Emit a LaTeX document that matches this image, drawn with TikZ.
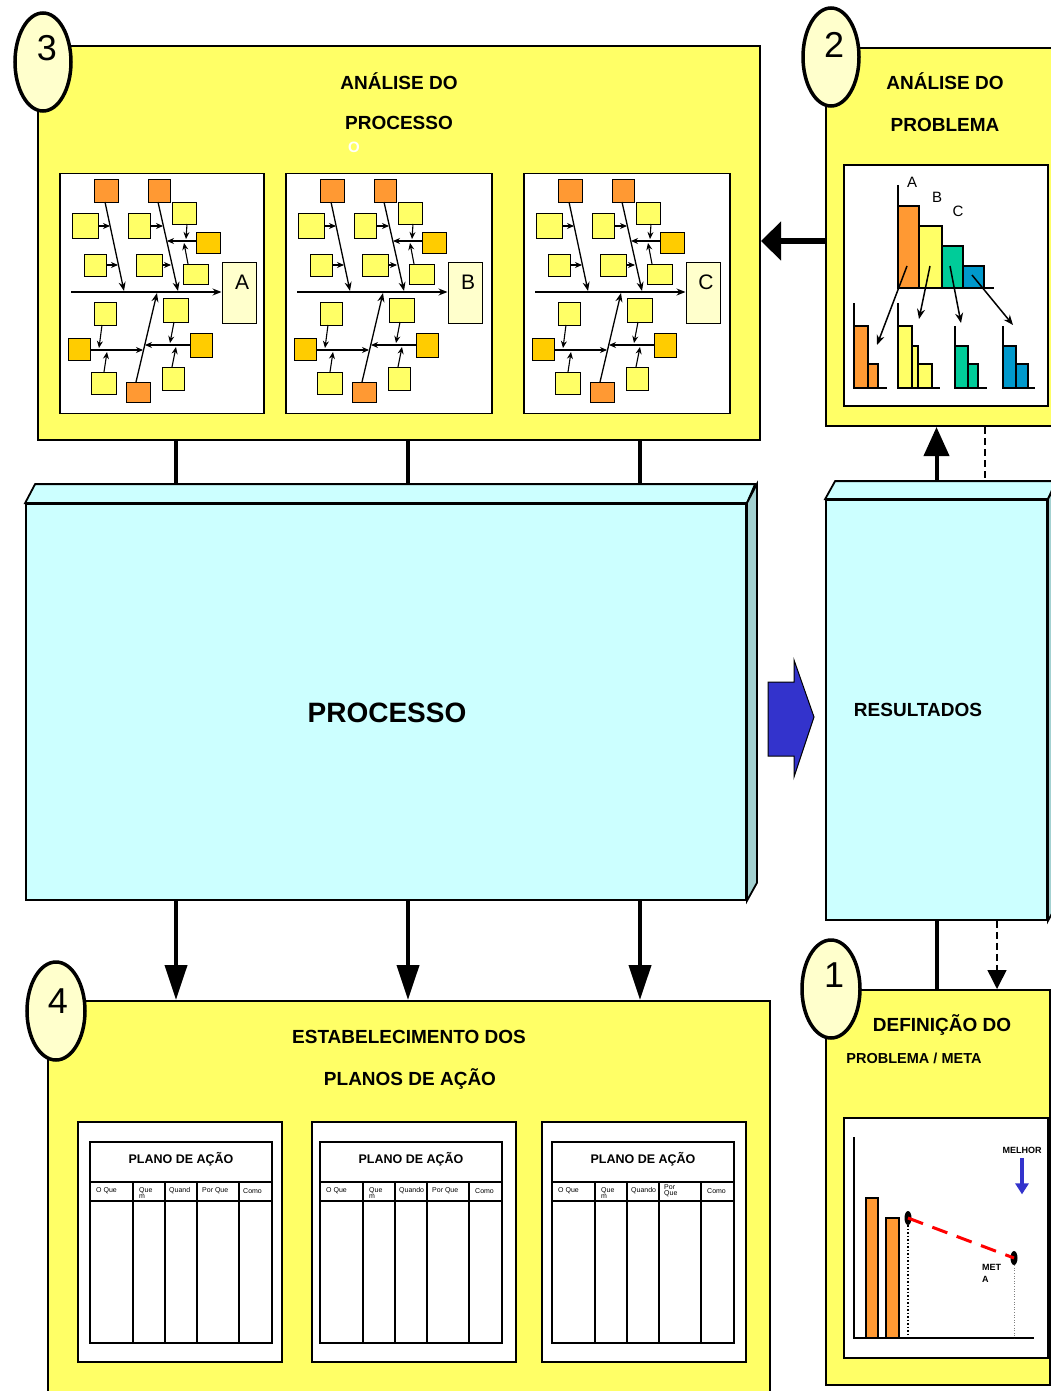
\documentclass[tikz,border=0pt]{standalone}
\usepackage{fontspec}
\setmainfont{Liberation Sans}
\usepackage{tikz}
\usetikzlibrary{arrows.meta, shapes.geometric, positioning, calc}
\definecolor{panel-yellow}{HTML}{FFFF66}
\definecolor{badge-fill}{HTML}{FFFFCC}
\definecolor{box-cyan}{HTML}{CCFFFF}
\definecolor{box-side}{HTML}{A3D1D1}
\definecolor{cause-orange}{HTML}{FF9933}
\definecolor{cause-gold}{HTML}{FFCC00}
\definecolor{bar-green}{HTML}{00CC99}
\definecolor{bar-blue}{HTML}{0099CC}
\definecolor{arrow-blue}{HTML}{3333CC}
\tikzstyle{panel} = [rectangle, draw, fill=panel-yellow, line width=2pt, inner sep=0pt]
\tikzstyle{badge} = [ellipse, draw, fill=badge-fill, line width=3.5pt, minimum width=56pt, minimum height=98pt, inner sep=0pt]
\tikzstyle{badgenum} = [inner sep=0pt, font=\fontsize{36}{36}\selectfont]
\tikzstyle{title} = [inner sep=0pt, font=\fontsize{19}{22}\selectfont\bfseries]
\tikzstyle{sheet} = [rectangle, draw, fill=white, line width=1.5pt, inner sep=0pt, minimum width=204pt, minimum height=240pt]
\tikzstyle{box3d} = [rectangle, draw, fill=box-cyan, line width=1.8pt, inner sep=0pt]
\tikzstyle{cause} = [draw, line width=1pt]
\tikzstyle{bone} = [line width=1.3pt, -{Stealth[length=9pt,width=7pt]}]
\tikzstyle{twig} = [line width=1.1pt, -{Stealth[length=7pt,width=6pt]}]
\tikzstyle{link} = [line width=4pt]
\tikzstyle{bigArrow} = [line width=4pt, -{Triangle[length=35pt,width=22pt]}]
\tikzstyle{colhead} = [anchor=west, inner sep=0pt, align=left, font=\fontsize{7}{6}\selectfont]

\newcommand{\fishbone}[2]{%
  \begin{scope}[xshift=#1pt]
    \node[cause, fill=badge-fill, minimum width=34pt, minimum height=61pt, inner sep=0pt] (fish#2) at (239,292.5) {};
    \node[inner sep=0pt, font=\fontsize{21}{21}\selectfont] (fish#2-name) at (242,282) {#2};
    \foreach \a/\b/\c/\d in {72/213/98/238, 84/254/106/276, 128/213/150/238, 136/254/162/276, 172/202/196/224,
        183/264/208/284, 94/302/116/325, 91/372/116/394, 163/298/188/322, 162/367/184/390}
      \draw[cause, fill=panel-yellow] (\a,\b) rectangle (\c,\d);
    \foreach \a/\b/\c/\d in {94/180/118/202, 148/180/170/202, 126/382/150/402}
      \draw[cause, fill=cause-orange] (\a,\b) rectangle (\c,\d);
    \foreach \a/\b/\c/\d in {196/232/220/253, 68/338/90/360, 190/333/212/357}
      \draw[cause, fill=cause-gold] (\a,\b) rectangle (\c,\d);
    \draw[bone] (71,292) -- (fish#2.west |- 0,292);
    \draw[bone] (105,202) -- (124,291);
    \draw[bone] (158,202) -- (178,291);
    \draw[bone] (136,382) -- (157,293);
    \foreach \a/\b/\c/\d in {98/226/110/226, 106/265/118/265, 150/226/163/226, 162/265/171/265, 196/241/167/241,
        187/224/186/239, 188/264/184/243, 90/350/143/350, 102/325/99/348, 104/372/107/352, 174/322/170/343,
        190/345/145/345, 172/367/176/347}
      \draw[twig] (\a,\b) -- (\c,\d);
  \end{scope}}

\newcommand{\planoTable}[5]{%
  \begin{scope}[xshift=#1pt]
    \draw[line width=1.5pt] (0,1142) rectangle (182,1343);
    \draw[line width=1.5pt] (0,1182) -- (182,1182);
    \draw[line width=1.5pt] (0,1201) -- (182,1201);
    \foreach \cx in {43,75,107,149}
      \draw[line width=1.5pt] (\cx,1182) -- (\cx,1343);
    \node[inner sep=0pt, font=\fontsize{12.5}{14}\selectfont\bfseries] (#2-head) at (91,1159) {PLANO DE AÇÃO};
    \node[colhead] (#2-c1) at (6,1191) {O Que};
    \node[colhead] (#2-c2) at (49,1193) {Que\\m};
    \node[colhead] (#2-c3) at (79,1191) {#3};
    \node[colhead] (#2-c4) at (112,1191) {#4};
    \node[colhead] (#2-c5) at (#5,1191) {Como};
  \end{scope}}

\begin{document}
\begin{tikzpicture}[x=1pt, y=-1pt]
  \useasboundingbox (0,0) rectangle (1051,1391);
  \clip (0,0) rectangle (1051,1391);

  % step 3
  \node[panel, minimum width=722pt, minimum height=394pt] (panel3) at (399,243) {};
  \node[title] (title3a) at (399,81) {ANÁLISE DO};
  \node[title] (title3b) at (399,123) {PROCESSO};
  \node[inner sep=0pt, white, font=\fontsize{15}{15}\selectfont\bfseries] (title3c) at (354,147) {O};
  \node[sheet] (fishA) at (162,293.5) {};
  \node[sheet, minimum width=206pt] (fishB) at (389,293.5) {};
  \node[sheet, minimum width=206pt] (fishC) at (627,293.5) {};
  \fishbone{0}{A}
  \fishbone{226}{B}
  \fishbone{464}{C}

  % step 2
  \node[panel, minimum width=232pt, minimum height=378pt] (panel2) at (942,237) {};
  \node[title] (title2a) at (945,81) {ANÁLISE DO};
  \node[title] (title2b) at (945,125) {PROBLEMA};
  \node[sheet, minimum height=241pt] (pareto) at (946,285.5) {};
  \draw[line width=1.5pt, fill=cause-orange] (898,206) rectangle (919,288);
  \draw[line width=1.5pt, fill=panel-yellow] (919,226) rectangle (942,288);
  \draw[line width=1.5pt, fill=bar-green] (942,246) rectangle (963,288);
  \draw[line width=1.5pt, fill=bar-blue] (963,266) rectangle (984,288);
  \draw[line width=1.5pt] (898,185) -- (898,288) -- (994,288);
  \node[inner sep=0pt, font=\fontsize{15}{15}\selectfont] (barA) at (912,182) {A};
  \node[inner sep=0pt, font=\fontsize{15}{15}\selectfont] (barB) at (937,197) {B};
  \node[inner sep=0pt, font=\fontsize{15}{15}\selectfont] (barC) at (958,211) {C};
  \foreach \a/\b/\c/\d in {907/266/877/345, 930/266/919/319, 950/266/961/323, 972/275/1013/325}
    \draw[line width=1.5pt, -{Stealth[length=10pt,width=8pt]}] (\a,\b) -- (\c,\d);
  \draw[line width=1.2pt, fill=cause-orange] (854,326) rectangle (868,388);
  \draw[line width=1.2pt, fill=cause-orange] (868,364) rectangle (878,388);
  \draw[line width=1.2pt, fill=panel-yellow] (898,326) rectangle (912,388);
  \draw[line width=1.2pt, fill=panel-yellow] (912,346) rectangle (918,388);
  \draw[line width=1.2pt, fill=panel-yellow] (918,364) rectangle (932,388);
  \draw[line width=1.2pt, fill=bar-green] (955,346) rectangle (968,388);
  \draw[line width=1.2pt, fill=bar-green] (968,364) rectangle (978,388);
  \draw[line width=1.2pt, fill=bar-blue] (1003,346) rectangle (1016,388);
  \draw[line width=1.2pt, fill=bar-blue] (1016,364) rectangle (1028,388);
  \draw[line width=1.2pt] (854,303) -- (854,388) -- (887,388);
  \draw[line width=1.2pt] (898,303) -- (898,388) -- (940,388);
  \draw[line width=1.2pt] (955,326) -- (955,388) -- (987,388);
  \draw[line width=1.2pt] (1003,326) -- (1003,388) -- (1035,388);

  % processo
  \node[box3d, minimum width=720pt, minimum height=396pt] (proc) at (386,702) {};
  \draw[line width=1.8pt, fill=box-cyan] (proc.north west) -- ++(10,-19) -- ++(720,0) -- (proc.north east) -- cycle;
  \draw[line width=1.8pt, fill=box-side] (proc.north east) -- ++(10,-19) -- ($(proc.south east)+(10,-18)$) -- (proc.south east) -- cycle;
  \node[inner sep=0pt, font=\fontsize{28}{30}\selectfont\bfseries] (procText) at (387,713) {PROCESSO};
  \coordinate (proctop) at ($(proc.north)+(0,-19)$);

  % resultados
  \node[box3d, minimum width=221pt, minimum height=420pt] (res) at (936.5,710) {};
  \draw[line width=1.8pt, fill=box-cyan] (res.north west) -- ++(10,-18) -- ++(221,0) -- (res.north east) -- cycle;
  \draw[line width=1.8pt, fill=box-side] (res.north east) -- ++(10,-18) -- ($(res.south east)+(10,-18)$) -- (res.south east) -- cycle;
  \node[inner sep=0pt, font=\fontsize{19}{22}\selectfont\bfseries] (resText) at (918,710) {RESULTADOS};
  \coordinate (restop) at ($(res.north)+(0,-18)$);
  \filldraw[fill=arrow-blue, draw=black, line width=1pt] (768,682) -- (794,682) -- (794,660) -- (814,717)
    -- (794,777) -- (794,756) -- (768,756) -- cycle;

  % step 4
  \node[panel, minimum width=722pt, minimum height=399pt] (panel4) at (409,1200.5) {};
  \node[title] (title4a) at (409,1037) {ESTABELECIMENTO DOS};
  \node[title] (title4b) at (410,1079) {PLANOS DE AÇÃO};
  \node[sheet] (plano1) at (180,1242) {};
  \node[sheet] (plano2) at (414,1242) {};
  \node[sheet] (plano3) at (644,1242) {};
  \planoTable{90}{pA}{Quand}{Por Que}{153}
  \planoTable{320}{pB}{Quando}{Por Que}{155}
  \planoTable{552}{pC}{Quando}{Por\\Que}{155}

  % step 1
  \node[panel, minimum width=224pt, minimum height=395pt] (panel1) at (938,1187.5) {};
  \node[title] (title1a) at (942,1025) {DEFINIÇÃO DO};
  \node[inner sep=0pt, font=\fontsize{14.5}{16}\selectfont\bfseries] (title1b) at (914,1058) {PROBLEMA / META};
  \node[sheet] (meta) at (946,1238) {};
  \draw[line width=1.2pt, fill=cause-orange] (866,1198) rectangle (878,1338);
  \draw[line width=1.2pt, fill=cause-orange] (886,1218) rectangle (899,1338);
  \draw[line width=1.5pt] (854,1137) -- (854,1338) -- (1034,1338);
  \node[ellipse, fill=black, minimum width=7pt, minimum height=14pt, inner sep=0pt] (start) at (908,1218) {};
  \node[ellipse, fill=black, minimum width=7pt, minimum height=14pt, inner sep=0pt] (goal) at (1014,1258) {};
  \draw[line width=1.5pt, dotted] (start) -- (start |- 0,1338);
  \draw[line width=0.6pt, dotted, gray] (goal) -- (goal |- 0,1338);
  \draw[line width=3pt, red, dash pattern=on 16pt off 10pt] (start.center) -- (goal.center);
  \node[inner sep=0pt, font=\fontsize{9}{9}\selectfont\bfseries] (melhor) at (1022,1150) {MELHOR};
  \draw[line width=4pt, arrow-blue, -{Triangle[length=11pt,width=13pt]}] ([yshift=-5pt]melhor.south) -- ++(0,36);
  \node[inner sep=0pt, anchor=north west, align=left, font=\fontsize{9}{12}\selectfont\bfseries] (metaText) at (982,1264) {MET\\A};

  % badges
  \node[badge] (b3) at (43,62) {};
  \node[badgenum] (n3) at (47,48) {3};
  \node[badge] (b2) at (831,57) {};
  \node[badgenum] (n2) at (834,45) {2};
  \node[badge, minimum width=58pt] (b4) at (56,1011) {};
  \node[badgenum] (n4) at (58,1001) {4};
  \node[badge, minimum width=58pt] (b1) at (831,989) {};
  \node[badgenum] (n1) at (834,975) {1};

  % connectors
  \coordinate (col1) at (176,0);
  \coordinate (col2) at (408,0);
  \coordinate (col3) at (640,0);
  \coordinate (midrow) at (0,241);
  \foreach \c in {col1,col2,col3} {
    \draw[link] (panel3.south -| \c) -- (proctop -| \c);
    \draw[bigArrow] (proc.south -| \c) -- (panel4.north -| \c);
  }
  \draw[line width=6pt, -{Triangle[length=20pt,width=38pt]}] (panel2.west |- midrow) -- (panel3.east |- midrow);
  \draw[line width=4pt, -{Triangle[length=29pt,width=25pt]}] (restop) -- (panel2.south -| restop);
  \draw[line width=1.5pt, dash pattern=on 7pt off 4pt] (panel2.south -| 985,0) -- (restop -| 985,0);
  \draw[link] (res.south) -- (panel1.north -| res.south);
  \draw[line width=1.5pt, dash pattern=on 7pt off 4pt, -{Triangle[length=19pt,width=19pt]}] (res.south -| 997,0) -- (panel1.north -| 997,0);
\end{tikzpicture}
\end{document}
